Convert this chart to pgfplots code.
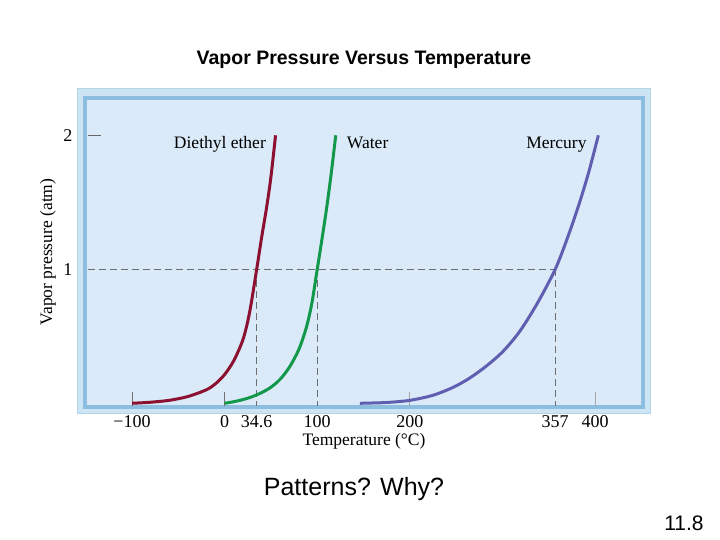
\documentclass[border=0pt]{standalone}
\usepackage{pgfplots}
\pgfplotsset{compat=1.18}
\usepackage{fontspec}
\setmainfont{Liberation Serif}
\newfontfamily\arial{Liberation Sans}
\definecolor{panel}{RGB}{218,234,248}
\definecolor{frameblue}{RGB}{141,190,223}
\definecolor{outerpale}{RGB}{205,228,244}
\definecolor{outeredge}{RGB}{180,212,234}
\definecolor{ether}{RGB}{140,16,48}
\definecolor{water}{RGB}{18,152,74}
\definecolor{mercury}{RGB}{96,94,176}
\definecolor{dashgray}{RGB}{110,110,110}
\begin{document}
\begin{tikzpicture}[x=1pt,y=1pt]
\path[use as bounding box, fill=white] (0,0) rectangle (720,540);
\fill[outerpale, draw=outeredge, line width=1.5pt] (77.5,126.5) rectangle (650.5,451.5);
\begin{axis}[at={(85pt,133pt)}, anchor=south west, width=558pt, height=308.5pt, scale only axis,
 xmin=-150.8, xmax=451.8, ymin=-0.0276, ymax=2.2746,
 axis background/.style={fill=panel},
 axis line style={draw=frameblue, line width=4pt},
 major tick length=0pt,
 xtick={-100,0,34.6,100,200,357,400},
 xticklabels={−100,0,34.6,100,200,357,400},
 ytick={1,2}, yticklabels={1,2},
 xticklabel style={font=\fontsize{18}{20}\selectfont, inner sep=0pt, anchor=north, yshift=-8pt},
 yticklabel style={font=\fontsize{18}{20}\selectfont, inner sep=0pt, anchor=east, xshift=-12.5pt},
 clip=false,
 ]
% dashed guide lines
\addplot[dashgray, line width=1pt, dash pattern=on 7pt off 4pt] coordinates {(-148,1) (357,1)};
\addplot[dashgray, line width=1pt, dash pattern=on 7pt off 4pt] coordinates {(34.6,1) (34.6,-0.02)};
\addplot[dashgray, line width=1pt, dash pattern=on 7pt off 4pt] coordinates {(100,1) (100,-0.02)};
\addplot[dashgray, line width=1pt, dash pattern=on 7pt off 4pt] coordinates {(357,1) (357,-0.02)};
% small in-plot ticks
\addplot[black!55, line width=1pt] coordinates {(-100,-0.02) (-100,0.085)};
\addplot[black!55, line width=1pt] coordinates {(0,-0.02) (0,0.085)};
\addplot[black!35, line width=1pt] coordinates {(200,-0.02) (200,0.085)};
\addplot[black!35, line width=1pt] coordinates {(400,-0.02) (400,0.085)};
\addplot[black!60, line width=1.2pt] coordinates {(-147.5,2) (-134,2)};
% curves
\addplot[ether, line width=3pt, smooth] coordinates {
(-100,0) (-80,0.008) (-60,0.022) (-40,0.05) (-20,0.10) (-10,0.145) (0,0.215) (10,0.32) (20,0.48) (27,0.68) (34.6,1.0) (40,1.24) (45.5,1.47) (50,1.69) (55,2.0)};
\addplot[water, line width=3pt, smooth] coordinates {
(0,0) (10,0.012) (20,0.028) (30,0.05) (40,0.08) (50,0.12) (60,0.18) (70,0.27) (80,0.40) (88,0.56) (94,0.74) (100,1.0) (105,1.22) (110,1.45) (115,1.71) (120,2.0)};
\addplot[mercury, line width=3pt, smooth] coordinates {
(146,0) (175,0.006) (200,0.022) (225,0.06) (247,0.12) (265,0.19) (283,0.28) (301,0.39) (319,0.54) (338,0.75) (357,1.0) (370,1.23) (382,1.47) (393,1.72) (403.6,2.0)};
% curve labels
\node[anchor=base east, inner sep=0pt, font=\fontsize{17.5}{20}\selectfont] at (axis cs:44.7,1.898) {Diethyl ether};
\node[anchor=base west, inner sep=0pt, font=\fontsize{17.5}{20}\selectfont] at (axis cs:131.9,1.898) {Water};
\node[anchor=base east, inner sep=0pt, font=\fontsize{17.5}{20}\selectfont] at (axis cs:391,1.898) {Mercury};
\end{axis}
\node[rotate=90, inner sep=0pt, font=\fontsize{17.5}{20}\selectfont] at (48,288) {Vapor pressure (atm)};
\node[anchor=base, inner sep=0pt, font=\fontsize{17.5}{20}\selectfont] at (364,94) {Temperature (°C)};
\node[anchor=base, inner sep=0pt, font=\arial\bfseries\fontsize{19.5}{23}\selectfont] at (364,475) {Vapor Pressure Versus Temperature};
\node[anchor=base, inner sep=0pt, font=\arial\fontsize{25}{30}\selectfont] at (354,44) {Patterns? Why?};
\node[anchor=base, inner sep=0pt, font=\arial\fontsize{21}{25}\selectfont] at (684,9) {11.8};
\end{tikzpicture}
\end{document}
